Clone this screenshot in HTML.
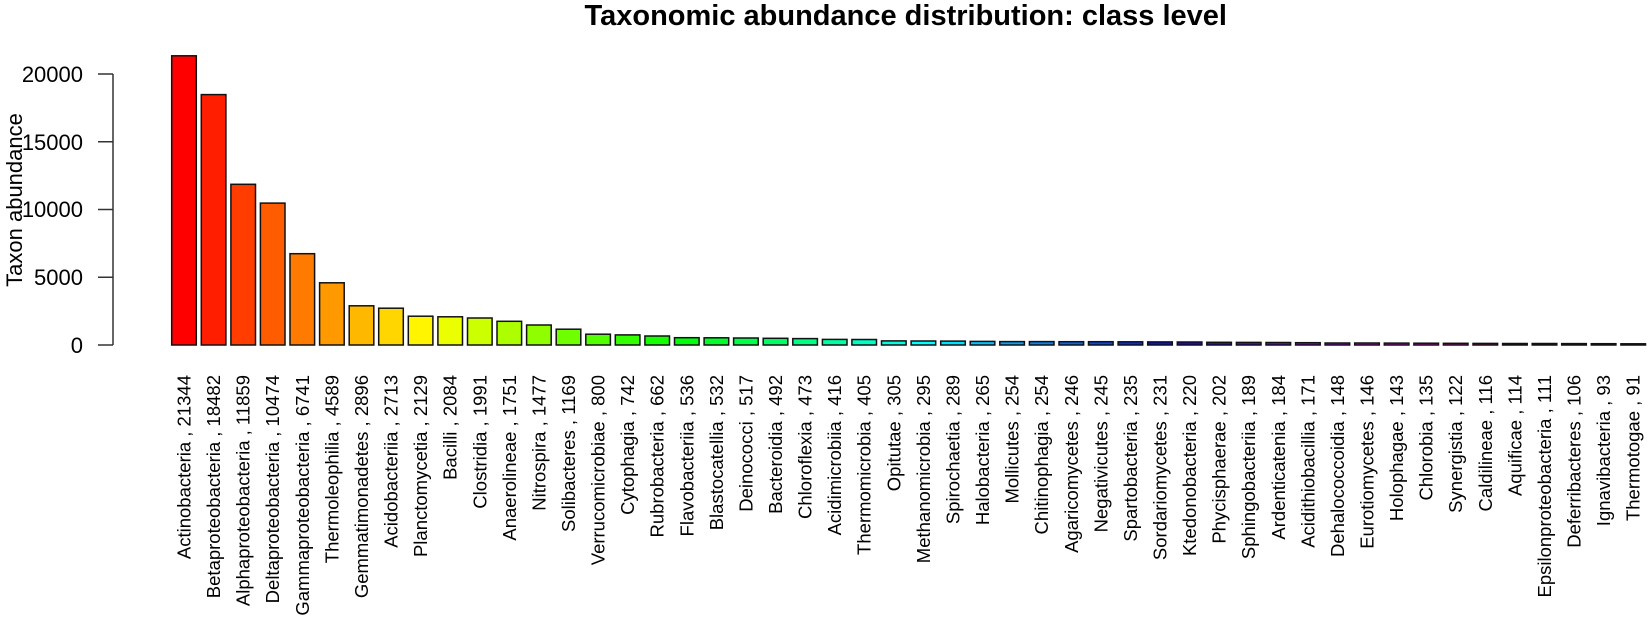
<!DOCTYPE html>
<html><head><meta charset="utf-8"><style>
html,body{margin:0;padding:0;background:#fff;}
svg{display:block;}
text{font-family:"Liberation Sans",Arial,sans-serif;fill:#000;}
.l{font-size:18.5px;}
</style></head><body>
<svg width="1650" height="622" viewBox="0 0 1650 622" xmlns="http://www.w3.org/2000/svg">
<text x="1227" y="25" text-anchor="end" font-size="29" font-weight="bold">Taxonomic abundance distribution: class level</text>
<g stroke="#333" stroke-width="1.5" fill="none">
<line x1="113" y1="74" x2="113" y2="345"/>
<line x1="98" y1="74" x2="113" y2="74"/>
<line x1="98" y1="141.75" x2="113" y2="141.75"/>
<line x1="98" y1="209.5" x2="113" y2="209.5"/>
<line x1="98" y1="277.25" x2="113" y2="277.25"/>
<line x1="98" y1="345" x2="113" y2="345"/>
</g>
<g font-size="22" text-anchor="end">
<text x="83" y="82">20000</text>
<text x="83" y="150">15000</text>
<text x="83" y="217">10000</text>
<text x="83" y="285">5000</text>
<text x="83" y="353">0</text>
</g>
<text transform="translate(22,200) rotate(-90)" text-anchor="middle" font-size="22">Taxon abundance</text>
<g stroke="#111" stroke-width="1.5">
<rect x="171.7" y="55.8" width="24.6" height="289.2" fill="hsl(0,100%,50%)"/>
<rect x="201.3" y="94.6" width="24.6" height="250.4" fill="hsl(7.2,100%,50%)"/>
<rect x="230.9" y="184.3" width="24.6" height="160.7" fill="hsl(14.4,100%,50%)"/>
<rect x="260.4" y="203.1" width="24.6" height="141.9" fill="hsl(21.6,100%,50%)"/>
<rect x="290.0" y="253.7" width="24.6" height="91.3" fill="hsl(28.8,100%,50%)"/>
<rect x="319.6" y="282.8" width="24.6" height="62.2" fill="hsl(36,100%,50%)"/>
<rect x="349.2" y="305.8" width="24.6" height="39.2" fill="hsl(43.2,100%,50%)"/>
<rect x="378.7" y="308.2" width="24.6" height="36.8" fill="hsl(50.4,100%,50%)"/>
<rect x="408.3" y="316.2" width="24.6" height="28.8" fill="hsl(57.6,100%,50%)"/>
<rect x="437.9" y="316.8" width="24.6" height="28.2" fill="hsl(64.8,100%,50%)"/>
<rect x="467.5" y="318.0" width="24.6" height="27.0" fill="hsl(72,100%,50%)"/>
<rect x="497.0" y="321.3" width="24.6" height="23.7" fill="hsl(79.2,100%,50%)"/>
<rect x="526.6" y="325.0" width="24.6" height="20.0" fill="hsl(86.4,100%,50%)"/>
<rect x="556.2" y="329.2" width="24.6" height="15.8" fill="hsl(93.6,100%,50%)"/>
<rect x="585.8" y="334.2" width="24.6" height="10.8" fill="hsl(100.8,100%,50%)"/>
<rect x="615.3" y="334.9" width="24.6" height="10.1" fill="hsl(108,100%,50%)"/>
<rect x="644.9" y="336.0" width="24.6" height="9.0" fill="hsl(115.2,100%,50%)"/>
<rect x="674.5" y="337.7" width="24.6" height="7.3" fill="hsl(122.4,100%,50%)"/>
<rect x="704.1" y="337.8" width="24.6" height="7.2" fill="hsl(129.6,100%,50%)"/>
<rect x="733.6" y="338.0" width="24.6" height="7.0" fill="hsl(136.8,100%,50%)"/>
<rect x="763.2" y="338.3" width="24.6" height="6.7" fill="hsl(144,100%,50%)"/>
<rect x="792.8" y="338.6" width="24.6" height="6.4" fill="hsl(151.2,100%,50%)"/>
<rect x="822.4" y="339.4" width="24.6" height="5.6" fill="hsl(158.4,100%,50%)"/>
<rect x="851.9" y="339.5" width="24.6" height="5.5" fill="hsl(165.6,100%,50%)"/>
<rect x="881.5" y="340.9" width="24.6" height="4.1" fill="hsl(172.8,100%,50%)"/>
<rect x="911.1" y="341.0" width="24.6" height="4.0" fill="hsl(180,100%,50%)"/>
<rect x="940.7" y="341.1" width="24.6" height="3.9" fill="hsl(187.2,100%,50%)"/>
<rect x="970.2" y="341.4" width="24.6" height="3.6" fill="hsl(194.4,100%,50%)"/>
<rect x="999.8" y="341.6" width="24.6" height="3.4" fill="hsl(201.6,100%,50%)"/>
<rect x="1029.4" y="341.6" width="24.6" height="3.4" fill="hsl(208.8,100%,50%)"/>
<rect x="1059.0" y="341.7" width="24.6" height="3.3" fill="hsl(216,100%,50%)"/>
<rect x="1088.5" y="341.7" width="24.6" height="3.3" fill="hsl(223.2,100%,50%)"/>
<rect x="1118.1" y="341.8" width="24.6" height="3.2" fill="hsl(230.4,100%,50%)"/>
<rect x="1147.7" y="341.9" width="24.6" height="3.1" fill="hsl(237.6,100%,50%)"/>
<rect x="1177.3" y="342.0" width="24.6" height="3.0" fill="hsl(244.8,100%,50%)"/>
<rect x="1206.8" y="342.3" width="24.6" height="2.7" fill="hsl(252,100%,50%)"/>
<rect x="1236.4" y="342.4" width="24.6" height="2.6" fill="hsl(259.2,100%,50%)"/>
<rect x="1266.0" y="342.5" width="24.6" height="2.5" fill="hsl(266.4,100%,50%)"/>
<rect x="1295.6" y="342.7" width="24.6" height="2.3" fill="hsl(273.6,100%,50%)"/>
<rect x="1325.1" y="343.0" width="24.6" height="2.0" fill="hsl(280.8,100%,50%)"/>
<rect x="1354.7" y="343.0" width="24.6" height="2.0" fill="hsl(288,100%,50%)"/>
<rect x="1384.3" y="343.1" width="24.6" height="1.9" fill="hsl(295.2,100%,50%)"/>
<rect x="1413.9" y="343.2" width="24.6" height="1.8" fill="hsl(302.4,100%,50%)"/>
<rect x="1443.4" y="343.3" width="24.6" height="1.7" fill="hsl(309.6,100%,50%)"/>
<rect x="1473.0" y="343.4" width="24.6" height="1.6" fill="hsl(316.8,100%,50%)"/>
<rect x="1502.6" y="343.5" width="24.6" height="1.5" fill="hsl(324,100%,50%)"/>
<rect x="1532.2" y="343.5" width="24.6" height="1.5" fill="hsl(331.2,100%,50%)"/>
<rect x="1561.7" y="343.6" width="24.6" height="1.4" fill="hsl(338.4,100%,50%)"/>
<rect x="1591.3" y="343.7" width="24.6" height="1.3" fill="hsl(345.6,100%,50%)"/>
<rect x="1620.9" y="343.8" width="24.6" height="1.2" fill="hsl(352.8,100%,50%)"/>
</g>
<g class="l" text-anchor="end">
<text transform="translate(190.5,375) rotate(-90)">Actinobacteria , 21344</text>
<text transform="translate(220.1,375) rotate(-90)">Betaproteobacteria , 18482</text>
<text transform="translate(249.7,375) rotate(-90)">Alphaproteobacteria , 11859</text>
<text transform="translate(279.2,375) rotate(-90)">Deltaproteobacteria , 10474</text>
<text transform="translate(308.8,375) rotate(-90)">Gammaproteobacteria , 6741</text>
<text transform="translate(338.4,375) rotate(-90)">Thermoleophilia , 4589</text>
<text transform="translate(368,375) rotate(-90)">Gemmatimonadetes , 2896</text>
<text transform="translate(397.5,375) rotate(-90)">Acidobacteriia , 2713</text>
<text transform="translate(427.1,375) rotate(-90)">Planctomycetia , 2129</text>
<text transform="translate(456.7,375) rotate(-90)">Bacilli , 2084</text>
<text transform="translate(486.3,375) rotate(-90)">Clostridia , 1991</text>
<text transform="translate(515.8,375) rotate(-90)">Anaerolineae , 1751</text>
<text transform="translate(545.4,375) rotate(-90)">Nitrospira , 1477</text>
<text transform="translate(575,375) rotate(-90)">Solibacteres , 1169</text>
<text transform="translate(604.6,375) rotate(-90)">Verrucomicrobiae , 800</text>
<text transform="translate(634.1,375) rotate(-90)">Cytophagia , 742</text>
<text transform="translate(663.7,375) rotate(-90)">Rubrobacteria , 662</text>
<text transform="translate(693.3,375) rotate(-90)">Flavobacteriia , 536</text>
<text transform="translate(722.9,375) rotate(-90)">Blastocatellia , 532</text>
<text transform="translate(752.4,375) rotate(-90)">Deinococci , 517</text>
<text transform="translate(782,375) rotate(-90)">Bacteroidia , 492</text>
<text transform="translate(811.6,375) rotate(-90)">Chloroflexia , 473</text>
<text transform="translate(841.2,375) rotate(-90)">Acidimicrobiia , 416</text>
<text transform="translate(870.7,375) rotate(-90)">Thermomicrobia , 405</text>
<text transform="translate(900.3,375) rotate(-90)">Opitutae , 305</text>
<text transform="translate(929.9,375) rotate(-90)">Methanomicrobia , 295</text>
<text transform="translate(959.5,375) rotate(-90)">Spirochaetia , 289</text>
<text transform="translate(989,375) rotate(-90)">Halobacteria , 265</text>
<text transform="translate(1018.6,375) rotate(-90)">Mollicutes , 254</text>
<text transform="translate(1048.2,375) rotate(-90)">Chitinophagia , 254</text>
<text transform="translate(1077.8,375) rotate(-90)">Agaricomycetes , 246</text>
<text transform="translate(1107.3,375) rotate(-90)">Negativicutes , 245</text>
<text transform="translate(1136.9,375) rotate(-90)">Spartobacteria , 235</text>
<text transform="translate(1166.5,375) rotate(-90)">Sordariomycetes , 231</text>
<text transform="translate(1196.1,375) rotate(-90)">Ktedonobacteria , 220</text>
<text transform="translate(1225.6,375) rotate(-90)">Phycisphaerae , 202</text>
<text transform="translate(1255.2,375) rotate(-90)">Sphingobacteriia , 189</text>
<text transform="translate(1284.8,375) rotate(-90)">Ardenticatenia , 184</text>
<text transform="translate(1314.4,375) rotate(-90)">Acidithiobacillia , 171</text>
<text transform="translate(1343.9,375) rotate(-90)">Dehalococcoidia , 148</text>
<text transform="translate(1373.5,375) rotate(-90)">Eurotiomycetes , 146</text>
<text transform="translate(1403.1,375) rotate(-90)">Holophagae , 143</text>
<text transform="translate(1432.7,375) rotate(-90)">Chlorobia , 135</text>
<text transform="translate(1462.2,375) rotate(-90)">Synergistia , 122</text>
<text transform="translate(1491.8,375) rotate(-90)">Caldilineae , 116</text>
<text transform="translate(1521.4,375) rotate(-90)">Aquificae , 114</text>
<text transform="translate(1551,375) rotate(-90)">Epsilonproteobacteria , 111</text>
<text transform="translate(1580.5,375) rotate(-90)">Deferribacteres , 106</text>
<text transform="translate(1610.1,375) rotate(-90)">Ignavibacteria , 93</text>
<text transform="translate(1639.7,375) rotate(-90)">Thermotogae , 91</text>
</g>
</svg>
</body></html>
